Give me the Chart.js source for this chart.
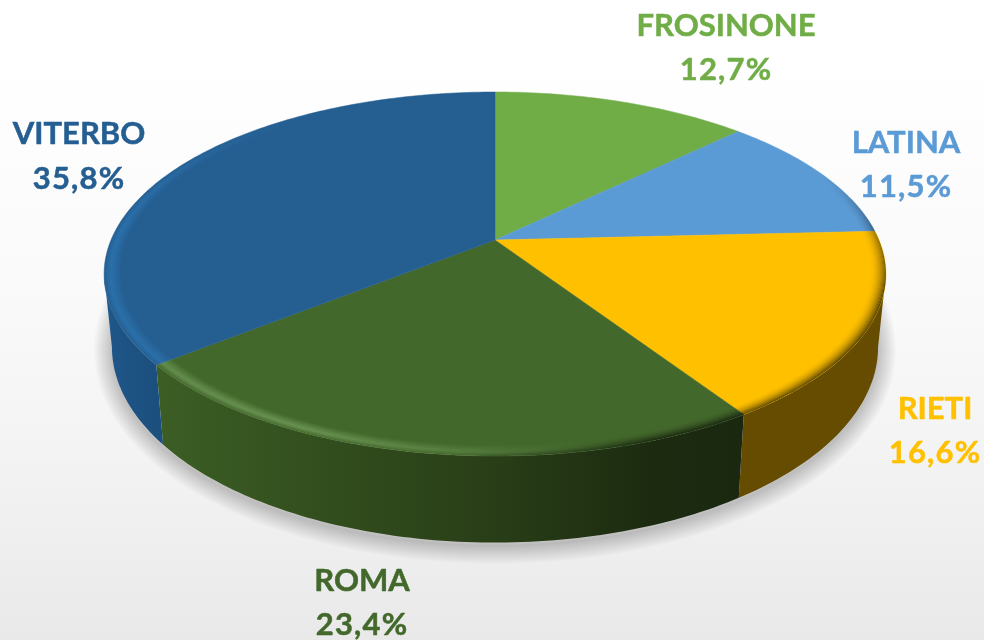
<!DOCTYPE html>
<html><head><meta charset="utf-8">
<style>
html,body{margin:0;padding:0;width:984px;height:640px;overflow:hidden;
background:linear-gradient(180deg,#ffffff 0,#ffffff 9%,#f9f9f9 50%,#f1f1f1 78%,#e9e9e9 100%)}
#w{position:absolute;left:0;top:0;width:984px;height:640px}
canvas{display:block}
</style>
<script src="https://cdn.jsdelivr.net/npm/chart.js@4"></script>
</head><body><div id="w"><canvas id="c" width="984" height="640"></canvas></div>
<script>
const categories=['FROSINONE','LATINA','RIETI','ROMA','VITERBO'];
const values=[12.7,11.5,16.6,23.4,35.8];
const topColors=['#70AD47','#5B9BD5','#FFC000','#43682B','#255E91'];

const labelSpots=[[726,36,80],[906,153,197],[935,419,463],[362,591,635],[79,144,189]];
const persp=0.187,A=1.6,B=0.732,DEPTH=0.293,BOTTOM_X=0.98;

function pie3d(chart){
  const ctx=chart.ctx, arcs=chart.getDatasetMeta(0).data;
  const R=arcs[0].outerRadius, cx=arcs[0].x, cy=arcs[0].y;
  const P=(phi,r=1)=>{const u=r*Math.sin(phi),v=-r*Math.cos(phi),s=1/(1-persp*v);
    return {x:cx+A*R*u*s,y:cy+B*R*v*s,s};};
  const Q=(phi)=>{const p=P(phi);return {x:cx+(p.x-cx)*BOTTOM_X,y:p.y+DEPTH*R*p.s};};
  const rad=d=>d*Math.PI/180, STEP=rad(1);
  const trace=(a,b,fn,first)=>{const n=Math.max(1,Math.ceil(Math.abs(b-a)/STEP));
    for(let i=0;i<=n;i++){const p=fn(a+(b-a)*i/n);(first&&i===0)?ctx.moveTo(p.x,p.y):ctx.lineTo(p.x,p.y);}};
  const wedge=(el)=>{ctx.beginPath();ctx.moveTo(cx,cy);trace(el.startAngle+Math.PI/2,el.endAngle+Math.PI/2,P,false);ctx.closePath();};

  ctx.save();
  // soft shadow under the body
  ctx.save();
  ctx.translate(0,3);ctx.lineJoin='round';
  ctx.strokeStyle='rgba(0,0,0,0.014)';
  for(let w=36;w>=2;w-=2){
    ctx.lineWidth=w;ctx.beginPath();trace(0,2*Math.PI,Q,true);ctx.closePath();ctx.stroke();
  }
  ctx.restore();

  // side walls, from one silhouette tangent to the other
  const sideStops=[
    null,
    null,
    [[0,'#654C00'],[1,'#654C00']],
    [[0,'#3C5E25'],[0.25,'#33501E'],[0.55,'#2A3F18'],[0.85,'#1C2B10'],[1,'#1A2810']],
    [[0,'#1F5789'],[1,'#1B4F7E']]
  ];
  const sideFrom=Math.PI/2+Math.asin(persp), sideTo=2*Math.PI-sideFrom;
  arcs.forEach((el,i)=>{
    if(!sideStops[i])return;
    let a=el.startAngle+Math.PI/2,b=el.endAngle+Math.PI/2;
    a=Math.max(a,sideFrom);b=Math.min(b,sideTo);
    if(b<=a)return;
    const pts=[];for(let t=a;t<=b;t+=STEP)pts.push(P(t).x);pts.push(P(b).x);
    const x0=Math.min(...pts),x1=Math.max(...pts);
    const g=ctx.createLinearGradient(x0,0,x1,0);
    sideStops[i].forEach(s=>g.addColorStop(s[0],s[1]));
    ctx.fillStyle=g;ctx.beginPath();
    trace(a,b,P,true);trace(b,a,Q,false);ctx.closePath();ctx.fill();
  });

  // top faces
  arcs.forEach((el,i)=>{
    ctx.fillStyle=topColors[i];ctx.strokeStyle=topColors[i];ctx.lineWidth=0.5;
    wedge(el);ctx.fill();ctx.stroke();
  });

  // bevel around the rim
  const ramp=(d,pts)=>{d=((d%360)+360)%360;for(let i=1;i<pts.length;i++){if(d<=pts[i][0]){
    const t=(d-pts[i-1][0])/(pts[i][0]-pts[i-1][0]);return pts[i-1][1]+(pts[i][1]-pts[i-1][1])*t;}}return 0;};
  const darkAt=[[0,0],[68,0],[90,.45],[110,.72],[160,.72],[185,0],[360,0]];
  const lights=[
    {slice:3,rgb:'143,191,122',at:[[0,0],[165,0],[205,.55],[240,.42],[360,0]]},
    {slice:4,rgb:'47,128,192',at:[[0,0],[225,.55],[275,.6],[325,0],[360,0]]}
  ];
  const steps=16,inner=0.958;
  const conic=(rgb,at,prof)=>{
    const g=ctx.createConicGradient(-Math.PI/2,cx,cy);
    for(let d=0;d<360;d+=5){
      const p=P(rad(d));
      let off=(Math.atan2(p.y-cy,p.x-cx)+Math.PI/2)/(2*Math.PI);off=(off+1)%1;
      if(d===0)off=0;
      g.addColorStop(off,`rgba(${rgb},${(ramp(d,at)*prof).toFixed(3)})`);
    }
    return g;
  };
  const ring=(k)=>{
    const r0=inner+(1-inner)*k/steps,r1=inner+(1-inner)*(k+1)/steps;
    ctx.beginPath();
    trace(0,2*Math.PI,t=>P(t,r1),true);ctx.closePath();
    trace(2*Math.PI,0,t=>P(t,r0),true);ctx.closePath();
    ctx.fill('evenodd');
  };
  for(let k=0;k<steps;k++){
    const rm=(k+.5)/steps;
    ctx.fillStyle=conic('0,0,0',darkAt,Math.pow(rm,2.2));ring(k);
  }
  lights.forEach(L=>{
    ctx.save();wedge(arcs[L.slice]);ctx.clip();
    for(let k=0;k<steps;k++){
      const rm=(k+.5)/steps,lp=rm<.62?rm/.62:(1-rm)/.38;
      ctx.fillStyle=conic(L.rgb,L.at,lp);ring(k);
    }
    ctx.restore();
  });

  // labels
  ctx.filter='blur(0.45px)';
  ctx.textAlign='center';ctx.textBaseline='alphabetic';ctx.font='bold 31px Lato';
  ctx.lineWidth=0.5;ctx.lineJoin='round';
  categories.forEach((n,i)=>{
    const s=labelSpots[i];ctx.fillStyle=topColors[i];ctx.strokeStyle=topColors[i];
    ctx.letterSpacing='0px';
    ctx.fillText(n,s[0],s[1]);ctx.strokeText(n,s[0],s[1]);
    const pct=values[i].toFixed(1).replace('.',',')+'%';
    ctx.letterSpacing='1.2px';
    ctx.fillText(pct,s[0],s[2]);ctx.strokeText(pct,s[0],s[2]);
  });
  ctx.filter='none';
  ctx.restore();
}

new Chart(document.getElementById('c'),{
  type:'pie',
  data:{labels:categories,datasets:[{data:values,backgroundColor:topColors,borderWidth:0}]},
  options:{responsive:false,animation:false,
    layout:{padding:{left:6,right:0,top:0,bottom:160}},
    plugins:{legend:{display:false},tooltip:{enabled:false}}},
  plugins:[{id:'pie3d',beforeDatasetsDraw(chart){pie3d(chart);return false;}}]
});
</script>
</body></html>
